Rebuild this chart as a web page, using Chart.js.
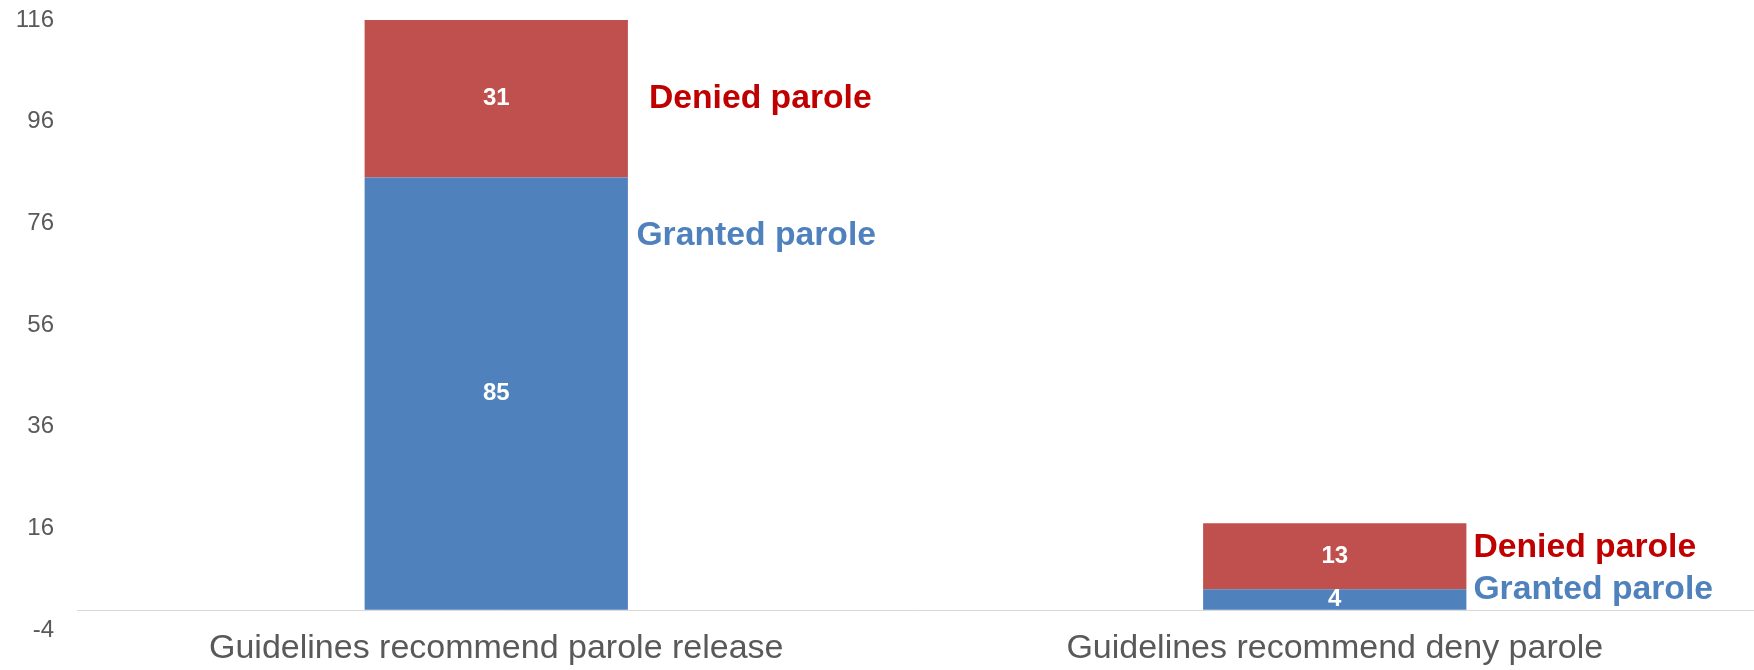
<!DOCTYPE html>
<html>
<head>
<meta charset="utf-8">
<title>Parole decisions by guideline recommendation</title>
<script src="https://cdn.jsdelivr.net/npm/chart.js@4"></script>
<style>
  html, body { margin: 0; padding: 0; background: #ffffff; }
  #wrap { width: 1754px; height: 670px; position: relative; }
</style>
</head>
<body>
<div id="wrap"><canvas id="chart" width="1754" height="670"></canvas></div>
<script>
// ---- data ----
const categories = ['Guidelines recommend parole release', 'Guidelines recommend deny parole'];
const seriesNames = ['Granted parole', 'Denied parole'];
const granted = [85, 4];
const denied = [31, 13];
const yTicks = [-4, 16, 36, 56, 76, 96, 116];

// ---- styling ----
const FONT = "'Liberation Sans', Arial, Helvetica, sans-serif";
const barColors = ['#4F81BD', '#C0504D'];
const nameColors = ['#4F81BD', '#C00000'];
const axisText = '#595959';

// series-name labels beside each bar: offset (px) from the bar's right edge
// and from the vertical centre of the segment, per category then per series
const nameOffsets = [
  [{ dx: 8.5, dy: -157.5 }, { dx: 21, dy: -0.5 }],
  [{ dx: 7,   dy: -9.5 },   { dx: 7,  dy: -8.8 }]
];

// horizontal rule at value 0
const zeroLine = {
  id: 'zeroLine',
  beforeDatasetsDraw(chart) {
    const { ctx, chartArea, scales } = chart;
    const y = Math.round(scales.y.getPixelForValue(0)) + 0.5;
    ctx.save();
    ctx.strokeStyle = '#D9D9D9';
    ctx.lineWidth = 1;
    ctx.beginPath();
    ctx.moveTo(chartArea.left, y);
    ctx.lineTo(chartArea.right, y);
    ctx.stroke();
    ctx.restore();
  }
};

// white value inside each segment, series name to the right of the bar
const barLabels = {
  id: 'barLabels',
  afterDatasetsDraw(chart) {
    const { ctx } = chart;
    ctx.save();
    chart.data.datasets.forEach((ds, di) => {
      const meta = chart.getDatasetMeta(di);
      meta.data.forEach((bar, i) => {
        const cy = (bar.y + bar.base) / 2;
        ctx.fillStyle = '#FFFFFF';
        ctx.font = 'bold 24px ' + FONT;
        ctx.textAlign = 'center';
        ctx.textBaseline = 'middle';
        ctx.fillText(String(ds.data[i]), bar.x, cy);

        const off = nameOffsets[i][di];
        ctx.fillStyle = nameColors[di];
        ctx.font = 'bold 33.7px ' + FONT;
        ctx.textAlign = 'left';
        ctx.fillText(ds.label, bar.x + bar.width / 2 + off.dx, cy + off.dy);
      });
    });
    ctx.restore();
  }
};

new Chart(document.getElementById('chart'), {
  type: 'bar',
  data: {
    labels: categories,
    datasets: [
      { label: seriesNames[0], data: granted, backgroundColor: barColors[0], borderWidth: 0,
        barPercentage: 1, categoryPercentage: 0.314 },
      { label: seriesNames[1], data: denied, backgroundColor: barColors[1], borderWidth: 0,
        barPercentage: 1, categoryPercentage: 0.314 }
    ]
  },
  options: {
    responsive: false,
    animation: false,
    devicePixelRatio: 1,
    layout: { padding: { top: 20, left: 0, right: 0, bottom: 0 } },
    plugins: { legend: { display: false }, tooltip: { enabled: false } },
    scales: {
      x: {
        stacked: true,
        grid: { display: false, drawTicks: false },
        border: { display: false },
        ticks: { color: axisText, font: { family: FONT, size: 34 }, padding: -2,
                 maxRotation: 0, autoSkip: false },
        afterFit(s) { s.height = 40; }
      },
      y: {
        stacked: true,
        min: -4,
        max: 116,
        grid: { display: false, drawTicks: false },
        border: { display: false },
        ticks: { color: axisText, font: { family: FONT, size: 24 }, padding: 23 },
        afterBuildTicks(s) { s.ticks = yTicks.map(v => ({ value: v })); },
        afterFit(s) { s.width = 77; s.paddingTop = 0; s.paddingBottom = 0; }
      }
    }
  },
  plugins: [zeroLine, barLabels]
});
</script>
</body>
</html>
